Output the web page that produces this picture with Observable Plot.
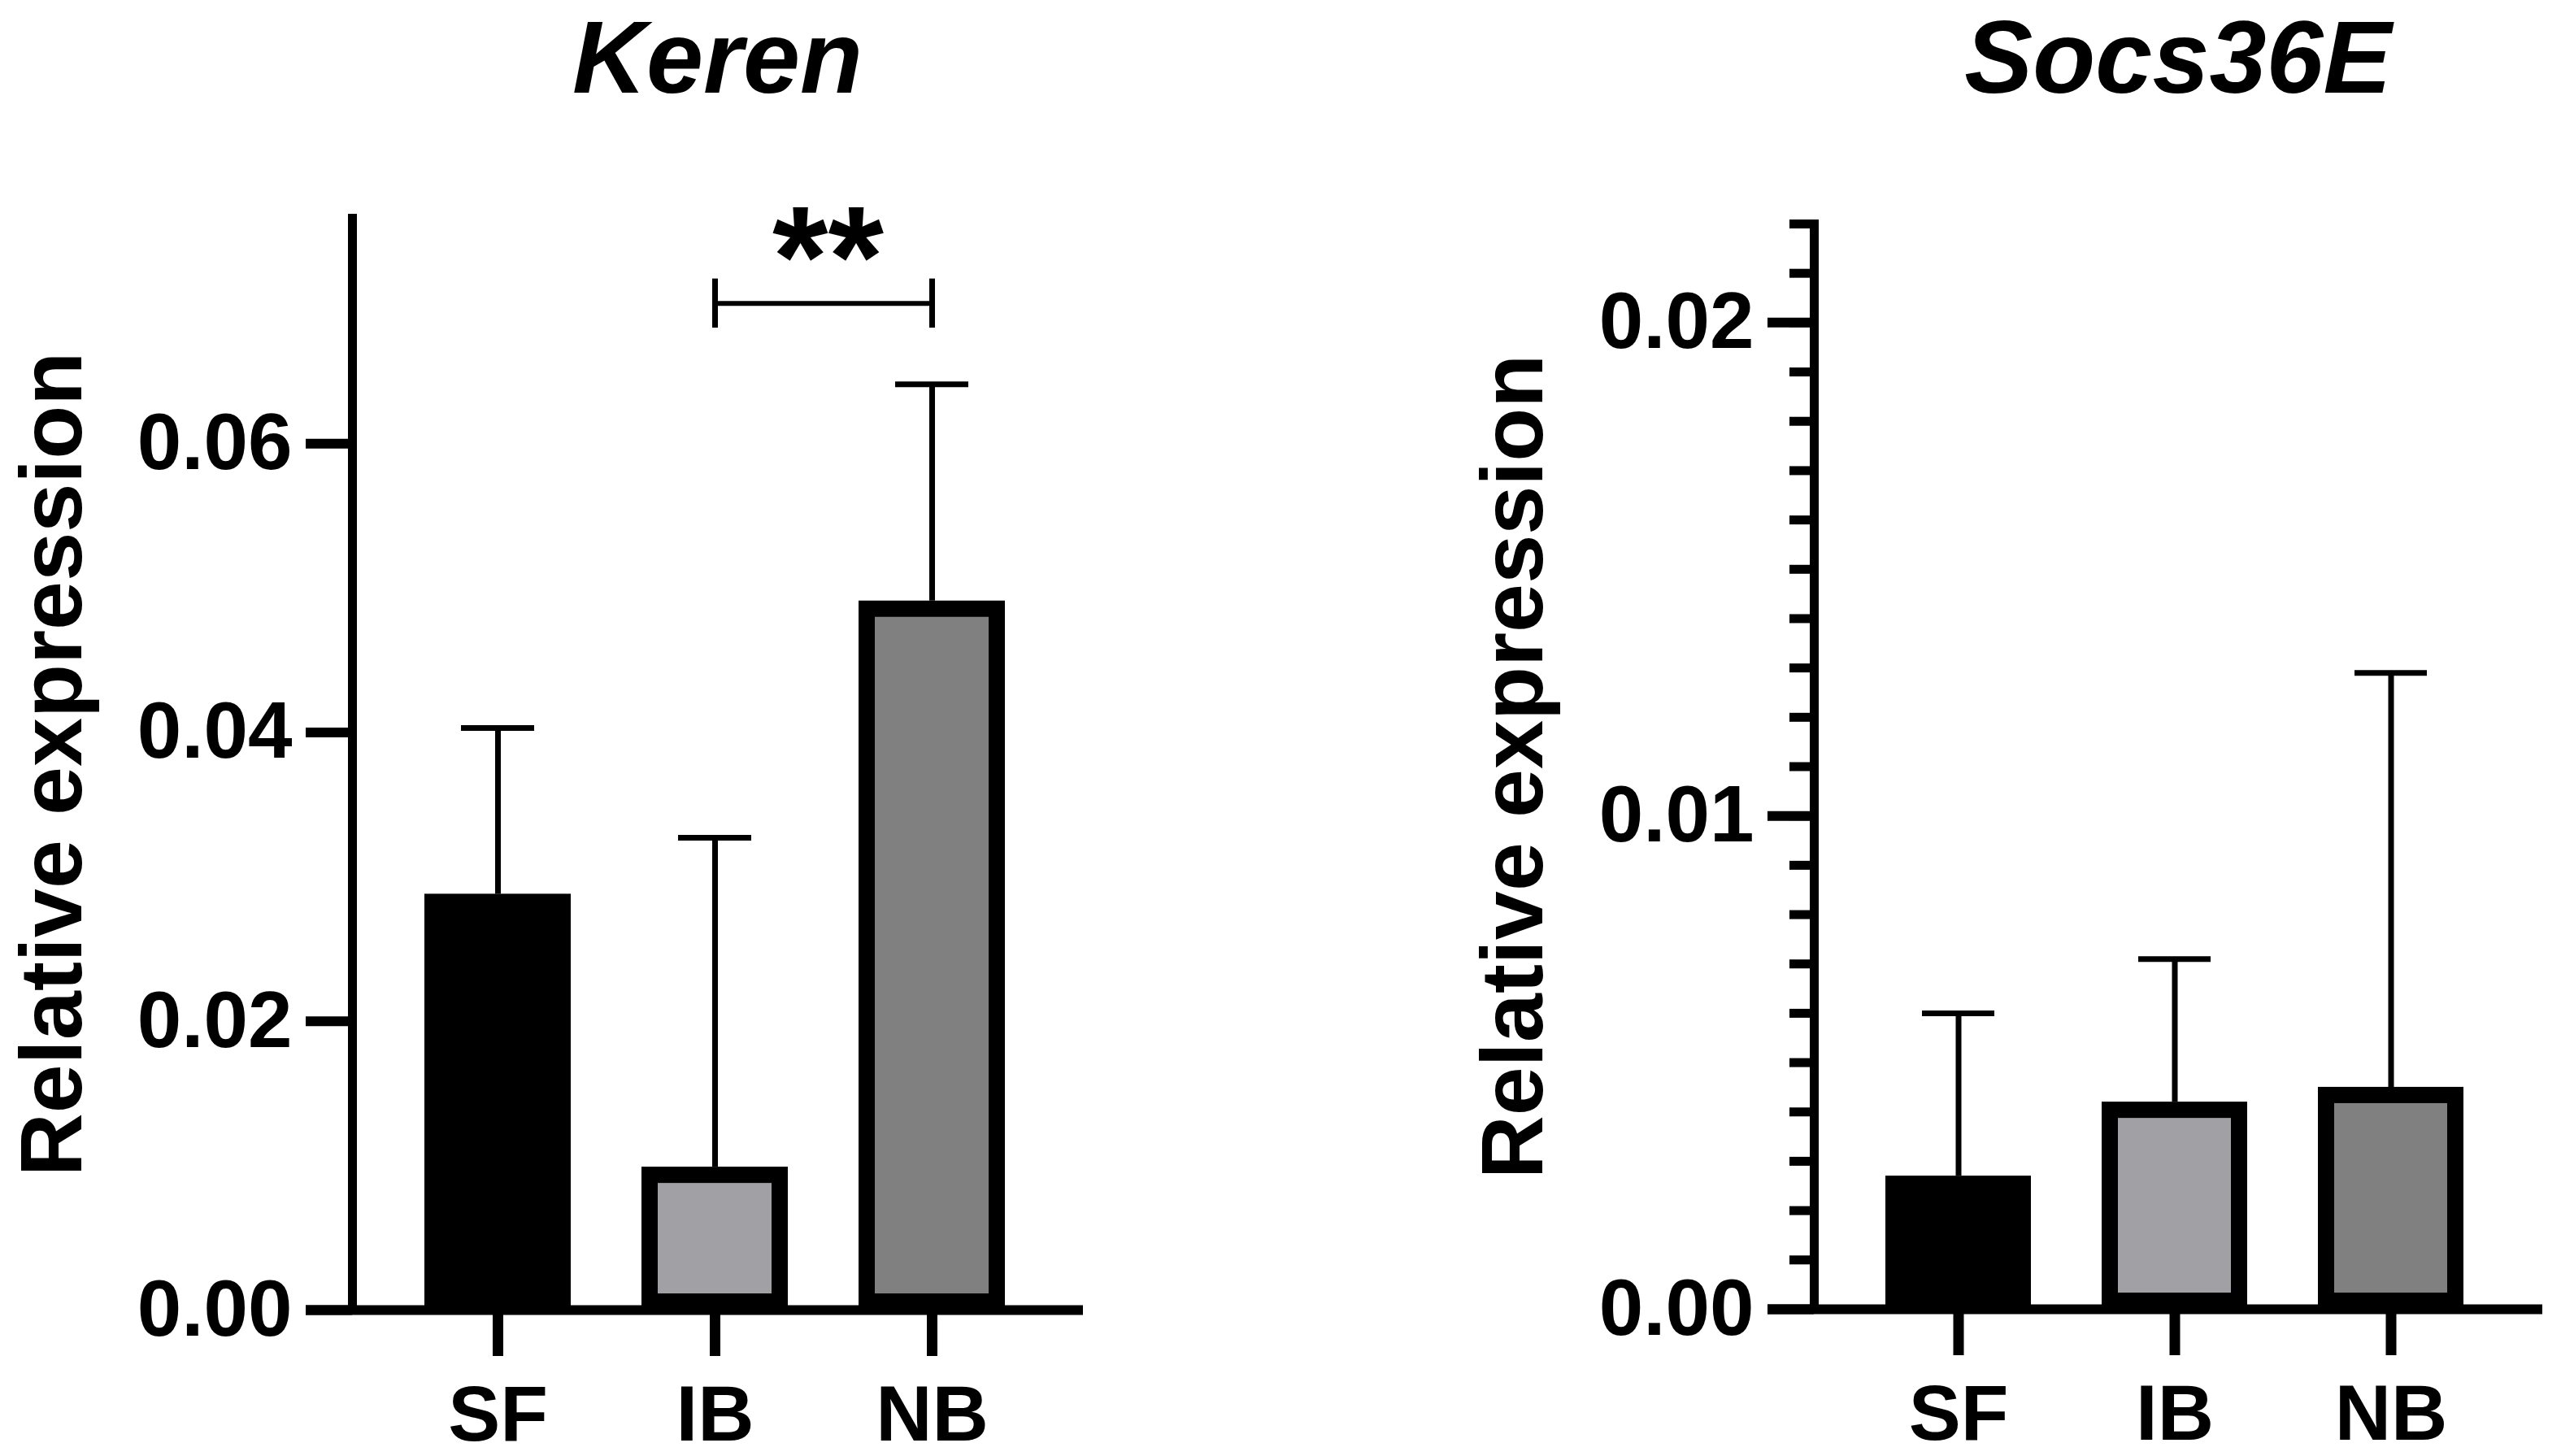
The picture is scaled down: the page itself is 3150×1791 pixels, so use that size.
<!DOCTYPE html>
<html>
<head>
<meta charset="utf-8">
<script src="https://cdn.jsdelivr.net/npm/d3@7"></script>
<script src="https://cdn.jsdelivr.net/npm/@observablehq/plot@0.6"></script>
<style>
  html, body { margin: 0; padding: 0; background: #fff; }
  #wrap { position: relative; width: 3150px; height: 1791px; overflow: hidden; background: #fff; }
  .panel { position: absolute; top: 0; width: 1575px; height: 1791px; }
  .title { position: absolute; top: 13px; font-family: "Liberation Sans", Arial, sans-serif; font-weight: bold; font-style: italic;
           font-size: 126px; line-height: 116px; text-align: center; color: #000; white-space: nowrap; }
</style>
</head>
<body>
<div id="wrap"></div>
<script>
// ---- data ----
const categories = ["SF", "IB", "NB"];
const barColors = ["#000000", "#a1a1a5", "#808080"];

const kerenTitle = "Keren";
const kerenMean = [0.0288, 0.0099, 0.0491];
const kerenErr  = [0.0115, 0.0228, 0.0150];
const kerenTicks = [0, 0.02, 0.04, 0.06];
const kerenMax = 0.0756;

const socsTitle = "Socs36E";
const socsMean = [0.0027, 0.0042, 0.0045];
const socsErr  = [0.0033, 0.0029, 0.0084];
const socsTicks = [0, 0.01, 0.02];
const socsMinorTicks = d3.ticks(0, 0.022, 22);
const socsMax = 0.022;

const yLabel = "Relative expression";
const sigPairs = [{from: "IB", to: "NB", y: 0.0697, yLow: 0.0680, yHigh: 0.0714, label: "**"}];

function makePanel({mean, err, ticks, minorTicks, max, marginLeft, marginRight, marginTop, marginBottom, labelDx, sig}) {
  const data = categories.map((c, i) => ({cat: c, mean: mean[i], upper: mean[i] + err[i]}));
  const marks = [
    Plot.ruleX(data, {x: "cat", y1: "mean", y2: "upper", stroke: "black", strokeWidth: 7}),
    Plot.tickY(data, {x: "cat", y: "upper", stroke: "black", strokeWidth: 7, insetLeft: 45, insetRight: 45}),
    Plot.barY(data, {x: "cat", y: "mean", fill: "cat", stroke: "black", strokeWidth: 20, inset: 10}),
    Plot.ruleY([0], {stroke: "black", strokeWidth: 12, insetLeft: -57}),
    Plot.frame({anchor: "left", stroke: "black", strokeWidth: 11, strokeLinecap: "square"}),
  ];
  if (minorTicks) {
    marks.push(Plot.axisY({ticks: minorTicks, tickSize: 30, strokeWidth: 11, text: null, label: null}));
  }
  marks.push(Plot.axisY({ticks, tickSize: 57, strokeWidth: 12, tickPadding: 17, tickFormat: d3.format(".2f"),
                         fontSize: 98, label: null}));
  marks.push(Plot.axisX({tickSize: 57, strokeWidth: 13, tickPadding: 35, fontSize: 96, label: null}));
  marks.push(Plot.text([yLabel], {frameAnchor: "left", rotate: -90, dx: labelDx, lineAnchor: "bottom",
                                  textAnchor: "middle", fontSize: 108, text: d => d}));
  if (sig) {
    marks.push(Plot.ruleY(sig, {x1: "from", x2: "to", y: "y", stroke: "black", strokeWidth: 6, insetLeft: 90, insetRight: 90}));
    marks.push(Plot.ruleX(sig.flatMap(s => [{x: s.from, y1: s.yLow, y2: s.yHigh}, {x: s.to, y1: s.yLow, y2: s.yHigh}]),
                          {x: "x", y1: "y1", y2: "y2", stroke: "black", strokeWidth: 7}));
    marks.push(Plot.text(sig, {x: "from", y: "y", text: "label", dx: 139, dy: 3, lineAnchor: "bottom", fontSize: 176,
                               letterSpacing: "14px"}));
  }
  return Plot.plot({
    width: 1575, height: 1791,
    marginLeft, marginRight, marginTop, marginBottom,
    x: {domain: categories, paddingInner: 0.327, paddingOuter: 0.344, align: 0.478},
    y: {domain: [0, max]},
    color: {domain: categories, range: barColors},
    style: {fontFamily: "'Liberation Sans', Arial, sans-serif", fontWeight: "bold", color: "black", background: "transparent", overflow: "visible"},
    marks
  });
}

const wrap = document.getElementById("wrap");

function addPanel(left, title, titleLeft, titleWidth, svg) {
  const p = document.createElement("div");
  p.className = "panel";
  p.style.left = left + "px";
  p.appendChild(svg);
  const t = document.createElement("div");
  t.className = "title";
  t.style.left = titleLeft + "px";
  t.style.width = titleWidth + "px";
  t.textContent = title;
  p.appendChild(t);
  wrap.appendChild(p);
}

const left = makePanel({mean: kerenMean, err: kerenErr, ticks: kerenTicks, max: kerenMax,
  marginLeft: 433, marginRight: 243, marginTop: 268, marginBottom: 180, labelDx: -334, sig: sigPairs});
addPanel(0, kerenTitle, 433, 899, left);

const right = makePanel({mean: socsMean, err: socsErr, ticks: socsTicks, minorTicks: socsMinorTicks, max: socsMax,
  marginLeft: 656, marginRight: 23, marginTop: 275, marginBottom: 181, labelDx: -335});
addPanel(1575, socsTitle, 656, 896, right);
</script>
</body>
</html>
